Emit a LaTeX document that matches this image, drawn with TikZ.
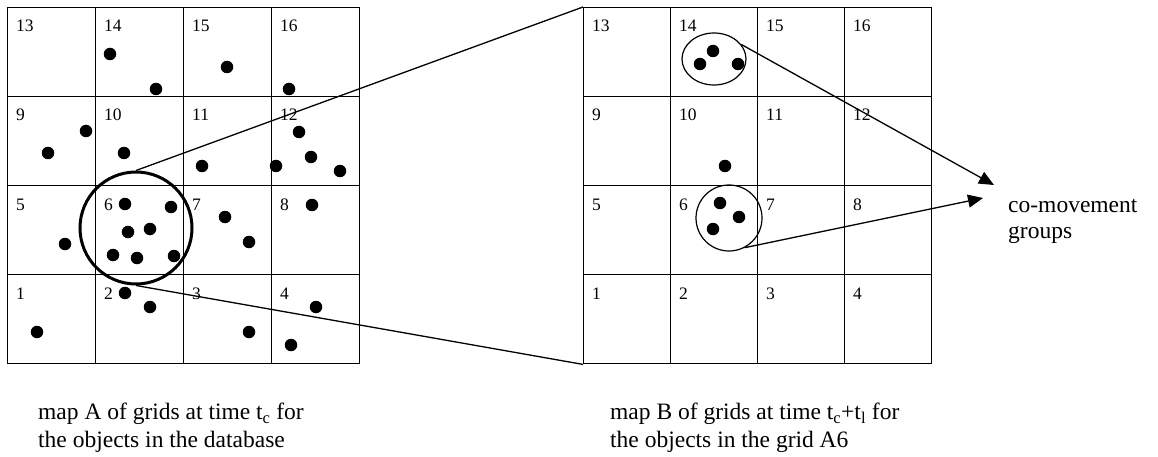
\documentclass[tikz,border=0pt]{standalone}
\usepackage{fontspec}
\setmainfont{Liberation Serif}
\usetikzlibrary{shapes.geometric,arrows.meta}
\begin{document}
\begin{tikzpicture}[x=1pt,y=-1pt,
  cellA/.style={draw,line width=1.4pt,minimum width=88pt,minimum height=89pt,inner sep=0,anchor=north west},
  cellB/.style={draw,line width=1.4pt,minimum width=87pt,minimum height=89pt,inner sep=0,anchor=north west},
  num/.style={font=\fontsize{17.5}{20}\selectfont,anchor=base west,inner sep=0},
  dot/.style={circle,fill,inner sep=0,minimum size=12.5pt},
  caption/.style={font=\fontsize{23.5}{28}\selectfont,align=left,anchor=north west,inner sep=0},
  zoomline/.style={line width=1.3pt},
  groupline/.style={line width=1.2pt},
  arrowline/.style={line width=1.3pt,-{Triangle[length=15pt,width=13pt]}}]
\useasboundingbox (0,0) rectangle (1158,457);

% map A: 4x4 grid, cell 13 at top left, cell 1 at bottom left
\foreach \r in {0,...,3} \foreach \c in {0,...,3} {
  \pgfmathtruncatemacro\n{(3-\r)*4+\c+1}
  \node[cellA] (A\n) at ({7+88*\c},{7+89*\r}) {};
  \node[num] (An\n) at ([xshift=9pt,yshift=-25pt]A\n.north west) {\n};
}
% map B: same layout
\foreach \r in {0,...,3} \foreach \c in {0,...,3} {
  \pgfmathtruncatemacro\n{(3-\r)*4+\c+1}
  \node[cellB] (B\n) at ({583+87*\c},{7+89*\r}) {};
  \node[num] (Bn\n) at ([xshift=9pt,yshift=-25pt]B\n.north west) {\n};
}

% objects in map A
\foreach [count=\i] \p in {(110,54),(156,89),(227,67),(289,89),(86,131),(48,153),
  (124,153),(202,166),(299,132),(311,157),(276,166),(340,171),(125,204),(171,207),
  (128,232),(150,229),(225,217),(249,242),(312,205),(65,244),(113,255),(137,258),
  (174,256),(125,293),(150,307),(37,332),(249,332),(316,307),(291,345)}
  \node[dot] (a\i) at \p {};

% objects in map B
\foreach [count=\i] \p in {(713,51),(700,64),(738,64),(725,166),(720,203),(739,217),(713,229)}
  \node[dot] (b\i) at \p {};

% selected grid A6 and its zoom lines to map B
\node[circle,draw,line width=3pt,minimum size=112pt,inner sep=0] (sel) at (136,228) {};
\draw[zoomline] (sel.north) -- (B13.north west);
\draw[zoomline] (sel.south) -- (B1.south west);

% co-movement groups in map B
\node[ellipse,draw,groupline,minimum width=64pt,minimum height=52pt,inner sep=0] (g14) at (714,59) {};
\node[circle,draw,groupline,minimum size=66pt,inner sep=0] (g6) at (729,218) {};

\coordinate (tip1) at (994,185);
\coordinate (tip2) at (983,198);
\draw[arrowline] (g14.28) -- (tip1);
\draw[arrowline] (g6.-62) -- (tip2);

\node[caption,font=\fontsize{23.5}{26}\selectfont] (groups) at (1008,199) {co-movement\\groups};

% captions
\node[caption] (capA) at (38,403) {map A of grids at time t\textsubscript{c} for\\the objects in the database};
\node[caption] (capB) at (610,403) {map B of grids at time t\textsubscript{c}+t\textsubscript{l} for\\the objects in the grid A6};
\end{tikzpicture}
\end{document}
